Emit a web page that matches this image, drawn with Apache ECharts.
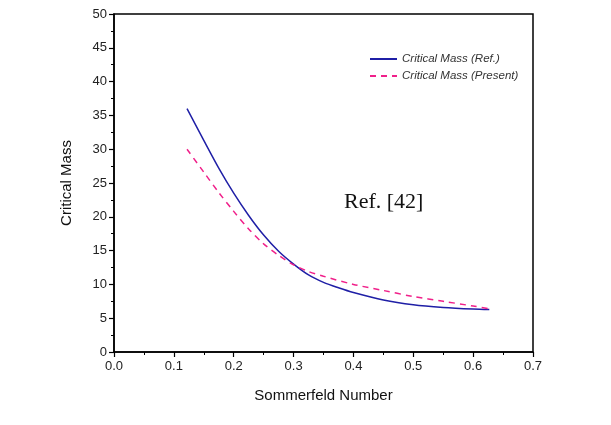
<!DOCTYPE html>
<html>
<head>
<meta charset="utf-8">
<script src="https://cdn.jsdelivr.net/npm/echarts@6/dist/echarts.min.js"></script>
<style>
html,body{margin:0;padding:0;background:#fff;}
#chart{width:611px;height:425px;}
</style>
</head>
<body>
<div id="chart"></div>
<script>
var xTicks = [0.0, 0.1, 0.2, 0.3, 0.4, 0.5, 0.6, 0.7];
var refX = [0.122, 0.15, 0.175, 0.2, 0.225, 0.25, 0.275, 0.3, 0.325, 0.35, 0.375, 0.4, 0.45, 0.5, 0.55, 0.6, 0.627];
var refY = [36.0, 31.3, 27.2, 23.5, 20.2, 17.3, 14.9, 13.0, 11.4, 10.3, 9.5, 8.8, 7.7, 7.0, 6.6, 6.35, 6.27];
var presX = [0.122, 0.15, 0.175, 0.2, 0.225, 0.25, 0.275, 0.3, 0.325, 0.35, 0.4, 0.45, 0.5, 0.55, 0.6, 0.627];
var presY = [30.0, 26.6, 23.6, 20.8, 18.2, 16.0, 14.3, 12.9, 11.9, 11.2, 10.0, 9.1, 8.2, 7.5, 6.8, 6.4];
var seriesNames = ['Critical Mass (Ref.)', 'Critical Mass (Present)'];
var annotation = 'Ref. [42]';

function pairs(xs, ys) { return xs.map(function (x, i) { return [x, ys[i]]; }); }

var chart = echarts.init(document.getElementById('chart'), null, {renderer: 'canvas'});
chart.setOption({
  backgroundColor: '#ffffff',
  animation: false,
  grid: {left: 114, right: 78, top: 14, bottom: 73, show: true, borderColor: '#000', borderWidth: 1.5, backgroundColor: 'transparent'},
  legend: {
    left: 364, top: 48, orient: 'vertical', itemWidth: 27, itemHeight: 10, itemGap: 5,
    itemStyle: {opacity: 0},
    textStyle: {fontFamily: 'Liberation Sans', fontStyle: 'italic', fontSize: 11.5, color: '#333'},
    data: seriesNames
  },
  xAxis: {
    type: 'value', min: 0, max: 0.7, interval: 0.1,
    name: 'Sommerfeld Number', nameLocation: 'middle', nameGap: 36,
    nameTextStyle: {fontFamily: 'Liberation Sans', fontSize: 15, color: '#111'},
    axisLine: {lineStyle: {color: '#000', width: 1.5}},
    axisTick: {show: true, inside: false, length: 5, lineStyle: {color: '#000', width: 1.2}},
    minorTick: {show: true, splitNumber: 2, length: 3, lineStyle: {color: '#000', width: 1}},
    axisLabel: {fontFamily: 'Liberation Sans', fontSize: 13, color: '#222', margin: 8,
      formatter: function (v) { return v.toFixed(1); }},
    splitLine: {show: false}
  },
  yAxis: {
    type: 'value', min: 0, max: 50, interval: 5,
    name: 'Critical Mass', nameLocation: 'middle', nameGap: 40, nameRotate: 90,
    nameTextStyle: {fontFamily: 'Liberation Sans', fontSize: 15, color: '#111'},
    axisLine: {show: true, lineStyle: {color: '#000', width: 1.5}},
    axisTick: {show: true, inside: false, length: 5, lineStyle: {color: '#000', width: 1.2}},
    minorTick: {show: true, splitNumber: 2, length: 3, lineStyle: {color: '#000', width: 1}},
    axisLabel: {fontFamily: 'Liberation Sans', fontSize: 13, color: '#222', margin: 7},
    splitLine: {show: false}
  },
  series: [
    {name: seriesNames[0], type: 'line', data: pairs(refX, refY), smooth: 0.3, symbol: 'none',
     lineStyle: {color: '#1f1fa6', width: 1.5}, itemStyle: {color: '#1f1fa6'}},
    {name: seriesNames[1], type: 'line', data: pairs(presX, presY), smooth: 0.3, symbol: 'none',
     lineStyle: {color: '#f0208a', width: 1.5, type: [6, 5]}, itemStyle: {color: '#f0208a'}}
  ],
  graphic: [
    {type: 'text', left: 344, top: 191,
     style: {text: annotation, font: '22px "Liberation Serif"', fill: '#111'}}
  ]
});
</script>
</body>
</html>
